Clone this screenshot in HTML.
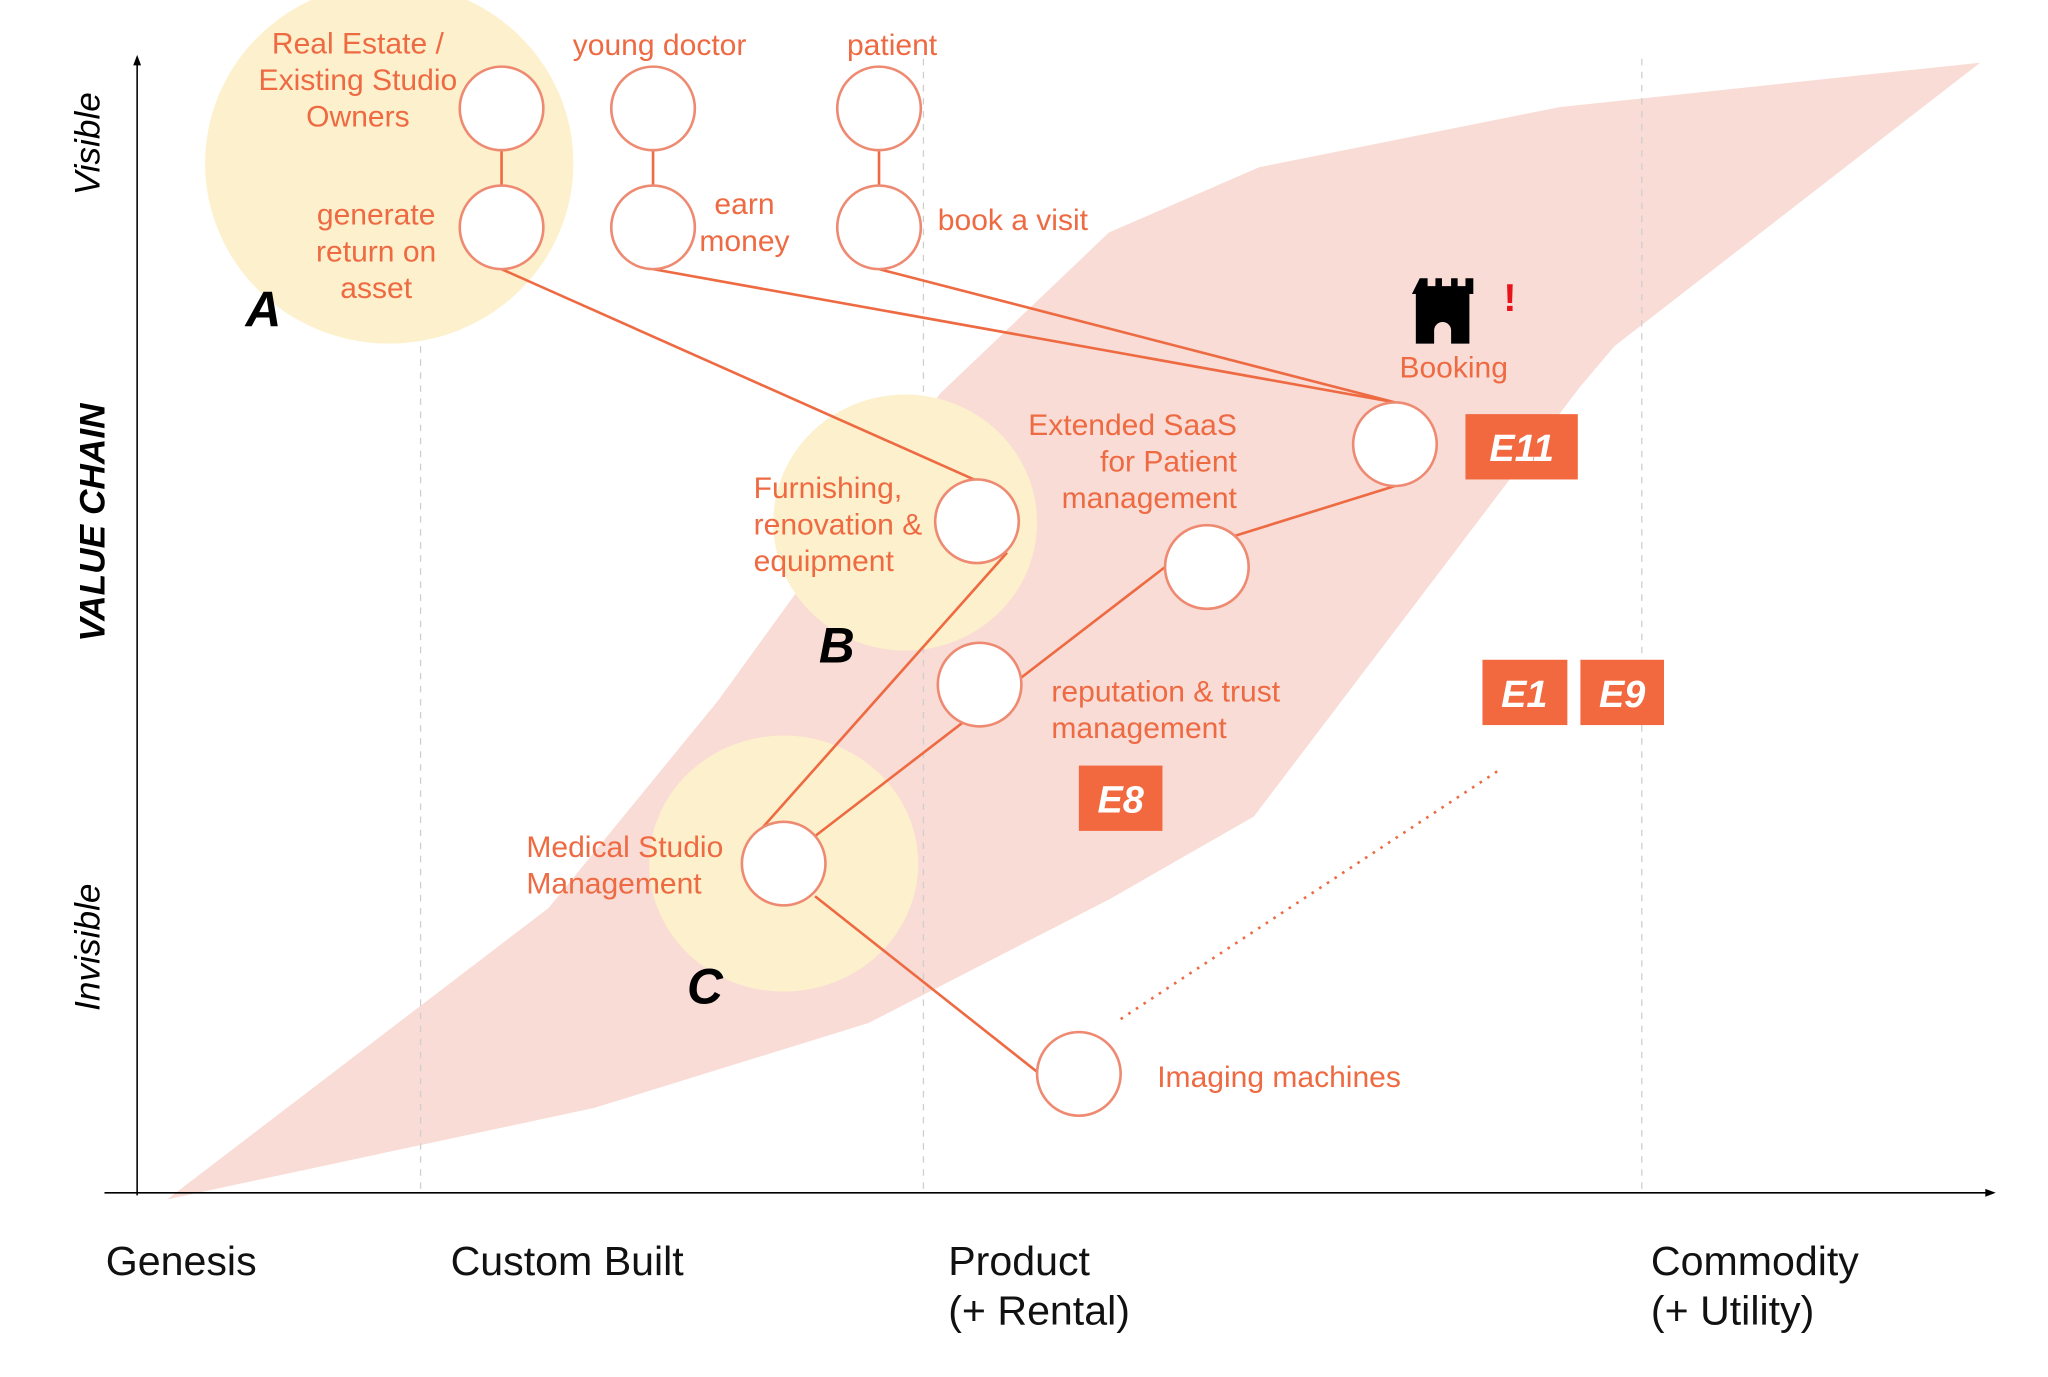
<!DOCTYPE html>
<html><head><meta charset="utf-8"><style>
html,body{margin:0;padding:0;background:#fff;}
svg{display:block;}
.t{font-family:"Liberation Sans",Arial,sans-serif;font-size:23px;fill:#ee6a42;}
.ax{font-family:"Liberation Sans",Arial,sans-serif;font-size:31.5px;fill:#111;}
.big{font-family:"Liberation Sans",Arial,sans-serif;font-style:italic;font-weight:bold;font-size:38px;fill:#000;}
.e{font-family:"Liberation Sans",Arial,sans-serif;font-style:italic;font-weight:bold;font-size:29px;fill:#fff;}
</style></head><body>
<svg width="2048" height="1377" viewBox="0 0 1568 1054" preserveAspectRatio="none" xmlns="http://www.w3.org/2000/svg">
<polygon points="128,918 455,848 665,783 850,688 960,625 1209,297 1236,265 1516,48 1194,82 964,128 849,178 720,301 550,536 420,695" fill="#f9dcd5"/>
<g stroke="#cfcfcf" stroke-dasharray="5,5" stroke-width="1">
<line x1="322" y1="45" x2="322" y2="913"/><line x1="707" y1="45" x2="707" y2="913"/><line x1="1257" y1="45" x2="1257" y2="913"/>
</g>
<ellipse cx="298" cy="125" rx="141" ry="138" fill="#fdf0cc"/>
<ellipse cx="693" cy="400" rx="101" ry="98" fill="#fdf0cc"/>
<ellipse cx="600" cy="661" rx="103" ry="98" fill="#fdf0cc"/>
<line x1="105" y1="915" x2="105" y2="48" stroke="#000" stroke-width="1.2"/>
<polygon points="105,42 102,50 108,50" fill="#000"/>
<line x1="80" y1="913" x2="1522" y2="913" stroke="#000" stroke-width="1.2"/>
<polygon points="1528,913 1520,910 1520,916" fill="#000"/>
<g stroke="#ee6a42" stroke-width="2" fill="none">
<line x1="384" y1="115" x2="384" y2="142"/><line x1="500" y1="115" x2="500" y2="142"/><line x1="673" y1="115" x2="673" y2="142"/>
<line x1="384" y1="206" x2="748" y2="368"/>
<line x1="500" y1="206" x2="1068" y2="308"/>
<line x1="673" y1="206" x2="1068" y2="308"/>
<line x1="1068" y1="372" x2="946" y2="410"/>
<line x1="892" y1="434" x2="624" y2="640"/>
<line x1="771" y1="423" x2="578" y2="640"/>
<line x1="624" y1="686" x2="796" y2="822"/>
<line x1="858" y1="780" x2="1150" y2="588" stroke-dasharray="2,5"/>
</g>
<g fill="#fff" stroke="#ee8a72" stroke-width="2">
<circle cx="384" cy="83" r="32"/><circle cx="384" cy="174" r="32"/>
<circle cx="500" cy="83" r="32"/><circle cx="500" cy="174" r="32"/>
<circle cx="673" cy="83" r="32"/><circle cx="673" cy="174" r="32"/>
<circle cx="1068" cy="340" r="32"/><circle cx="924" cy="434" r="32"/>
<circle cx="748" cy="399" r="32"/><circle cx="750" cy="524" r="32"/>
<circle cx="600" cy="661" r="32"/><circle cx="826" cy="822" r="32"/>
</g>
<g class="t">
<text x="274" y="41" text-anchor="middle">Real Estate /</text>
<text x="274" y="69" text-anchor="middle">Existing Studio</text>
<text x="274" y="97" text-anchor="middle">Owners</text>
<text x="288" y="172" text-anchor="middle">generate</text>
<text x="288" y="200" text-anchor="middle">return on</text>
<text x="288" y="228" text-anchor="middle">asset</text>
<text x="505" y="42" text-anchor="middle">young doctor</text>
<text x="683" y="42" text-anchor="middle">patient</text>
<text x="570" y="164" text-anchor="middle">earn</text>
<text x="570" y="192" text-anchor="middle">money</text>
<text x="718" y="176">book a visit</text>
<text x="1113" y="289" text-anchor="middle">Booking</text>
<text x="947" y="333" text-anchor="end">Extended SaaS</text>
<text x="947" y="361" text-anchor="end">for Patient</text>
<text x="947" y="389" text-anchor="end">management</text>
<text x="577" y="381">Furnishing,</text>
<text x="577" y="409">renovation &amp;</text>
<text x="577" y="437">equipment</text>
<text x="805" y="537">reputation &amp; trust</text>
<text x="805" y="565">management</text>
<text x="403" y="656">Medical Studio</text>
<text x="403" y="684">Management</text>
<text x="886" y="832">Imaging machines</text>
</g>
<g fill="#f2683f">
<rect x="1122" y="317" width="86" height="50"/>
<rect x="1135" y="505" width="65" height="50"/>
<rect x="1210" y="505" width="64" height="50"/>
<rect x="826" y="586" width="64" height="50"/>
</g>
<g class="e" text-anchor="middle">
<text x="1165" y="353">E11</text>
<text x="1167" y="541">E1</text>
<text x="1242" y="541">E9</text>
<text x="858" y="622">E8</text>
</g>
<path d="M1087,213 h6 v6 h6 v-6 h5 v6 h7 v-6 h5 v6 h6 v-6 h6 v12 h-3 v38 h-14 v-10 a6,6 0 0 0 -13,0 v10 h-14 v-38 h-3 z" fill="#000"/>
<text x="1156" y="238" font-family="Liberation Sans,sans-serif" font-size="30" font-weight="bold" fill="#e8141c" text-anchor="middle">!</text>
<g class="big">
<text x="188" y="250">A</text><text x="627" y="507">B</text><text x="526" y="768">C</text>
</g>
<g font-family="Liberation Sans,sans-serif" font-style="italic" fill="#000">
<text transform="translate(76,110) rotate(-90)" font-size="27" text-anchor="middle">Visible</text>
<text transform="translate(80,400) rotate(-90)" font-size="27" font-weight="bold" text-anchor="middle">VALUE CHAIN</text>
<text transform="translate(76,725) rotate(-90)" font-size="27" text-anchor="middle">Invisible</text>
</g>
<g class="ax">
<text x="81" y="976">Genesis</text>
<text x="345" y="976">Custom Built</text>
<text x="726" y="976">Product</text>
<text x="726" y="1014">(+ Rental)</text>
<text x="1264" y="976">Commodity</text>
<text x="1264" y="1014">(+ Utility)</text>
</g>
</svg>
</body></html>
